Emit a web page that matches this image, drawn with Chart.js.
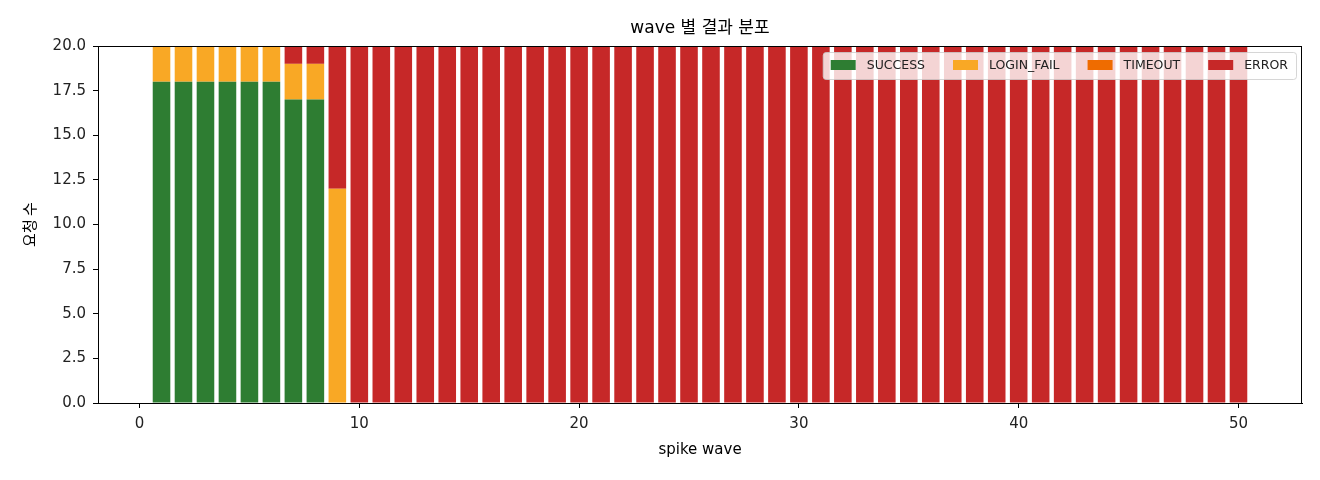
<!DOCTYPE html>
<html>
<head>
<meta charset="utf-8">
<script src="https://cdn.jsdelivr.net/npm/chart.js@4"></script>
<style>
  body { margin: 0; background: #fff; }
  #zone { width: 1320px; height: 480px; }
</style>
</head>
<body>
<div id="zone"><canvas id="Graphique"></canvas></div>
<script>
// données du graphe
var waves = [1, 2, 3, 4, 5, 6, 7, 8, 9, 10,
    11, 12, 13, 14, 15, 16, 17, 18, 19, 20,
    21, 22, 23, 24, 25, 26, 27, 28, 29, 30,
    31, 32, 33, 34, 35, 36, 37, 38, 39, 40,
    41, 42, 43, 44, 45, 46, 47, 48, 49, 50];
var success = [18, 18, 18, 18, 18, 18, 17, 17, 0, 0,
    0, 0, 0, 0, 0, 0, 0, 0, 0, 0,
    0, 0, 0, 0, 0, 0, 0, 0, 0, 0,
    0, 0, 0, 0, 0, 0, 0, 0, 0, 0,
    0, 0, 0, 0, 0, 0, 0, 0, 0, 0];
var loginFail = [2, 2, 2, 2, 2, 2, 2, 2, 12, 0,
    0, 0, 0, 0, 0, 0, 0, 0, 0, 0,
    0, 0, 0, 0, 0, 0, 0, 0, 0, 0,
    0, 0, 0, 0, 0, 0, 0, 0, 0, 0,
    0, 0, 0, 0, 0, 0, 0, 0, 0, 0];
var timeout = [0, 0, 0, 0, 0, 0, 0, 0, 0, 0,
    0, 0, 0, 0, 0, 0, 0, 0, 0, 0,
    0, 0, 0, 0, 0, 0, 0, 0, 0, 0,
    0, 0, 0, 0, 0, 0, 0, 0, 0, 0,
    0, 0, 0, 0, 0, 0, 0, 0, 0, 0];
var errors = [0, 0, 0, 0, 0, 0, 1, 1, 8, 20,
    20, 20, 20, 20, 20, 20, 20, 20, 20, 20,
    20, 20, 20, 20, 20, 20, 20, 20, 20, 20,
    20, 20, 20, 20, 20, 20, 20, 20, 20, 20,
    20, 20, 20, 20, 20, 20, 20, 20, 20, 20];
var xTicks = [0, 10, 20, 30, 40, 50];
var yTicks = [0, 2.5, 5, 7.5, 10, 12.5, 15, 17.5, 20];
var titre = 'wave 별 결과 분포';

// DejaVu pour le latin, Noto CJK pour le coréen
var police = '"DejaVu Sans", "Noto Sans CJK KR", sans-serif';
var policeKr = '"Noto Sans CJK KR", sans-serif';

function points(vals) {
    return waves.map(function (w, i) { return { x: w, y: vals[i] }; });
}

function serie(label, vals, color) {
    return {
        label: label,
        data: points(vals),
        backgroundColor: color,
        borderWidth: 0,
        barPercentage: 0.8,
        categoryPercentage: 1.0
    };
}

// légende dans la zone du graphe (en haut à droite), titre et cadre
var legendeInterne = {
    id: 'legendeInterne',
    afterDatasetsDraw: function (chart) {
        var ctx = chart.ctx;
        var area = chart.chartArea;
        ctx.save();
        ctx.font = '12.5px ' + police;
        var items = chart.data.datasets;
        var largeur = 16;
        items.forEach(function (d, i) {
            largeur += 25 + 11 + ctx.measureText(d.label).width;
            if (i < items.length - 1) largeur += 28;
        });
        var x0 = area.right - 6 - largeur;
        var y0 = area.top + 6;
        var h = 27;
        ctx.globalAlpha = 0.8;
        ctx.fillStyle = '#fff';
        ctx.strokeStyle = '#ccc';
        ctx.lineWidth = 1;
        ctx.beginPath();
        ctx.roundRect(x0 + 0.5, y0 + 0.5, largeur, h, 3);
        ctx.fill();
        ctx.stroke();
        ctx.globalAlpha = 1;
        var x = x0 + 8;
        items.forEach(function (d) {
            ctx.fillStyle = d.backgroundColor;
            ctx.fillRect(x, y0 + 8, 25, 10);
            ctx.fillStyle = '#222';
            ctx.textBaseline = 'middle';
            ctx.fillText(d.label, x + 36, y0 + 13.5);
            x += 25 + 11 + ctx.measureText(d.label).width + 28;
        });
        ctx.restore();
    },
    afterDraw: function (chart) {
        var a = chart.chartArea;
        var ctx = chart.ctx;
        ctx.save();
        // cadre complet autour du graphe
        ctx.strokeStyle = '#000';
        ctx.lineWidth = 1;
        ctx.strokeRect(a.left + 0.5, a.top + 0.5, a.right - a.left - 1, a.bottom - a.top);
        // titre centré sur la zone du graphe
        ctx.fillStyle = '#000';
        ctx.font = '17px ' + police;
        ctx.textAlign = 'center';
        ctx.textBaseline = 'middle';
        ctx.fillText(titre, (a.left + a.right) / 2, 29);
        ctx.restore();
    }
};

var chartObj = new Chart(document.getElementById('Graphique').getContext('2d'), {
    type: 'bar',
    data: {
        datasets: [
            serie('SUCCESS', success, '#2e7d32'),
            serie('LOGIN_FAIL', loginFail, '#f9a825'),
            serie('TIMEOUT', timeout, '#ef6c00'),
            serie('ERROR', errors, '#c62828')
        ]
    },
    options: {
        responsive: true,
        maintainAspectRatio: false,
        animation: false,
        layout: { padding: { top: 46, left: 0, right: 18, bottom: 0 } },
        plugins: {
            legend: { display: false },
            tooltip: { enabled: false },
            title: { display: false }
        },
        scales: {
            x: {
                type: 'linear',
                stacked: true,
                offset: false,
                min: -1.89,
                max: 52.89,
                afterBuildTicks: function (s) { s.ticks = xTicks.map(function (v) { return { value: v }; }); },
                afterFit: function (s) { s.height = 77; },
                grid: { display: true, offset: false, drawOnChartArea: false, tickLength: 5, tickColor: '#000' },
                border: { display: true, color: '#000' },
                ticks: { color: '#222', font: { family: police, size: 15 }, padding: 7, maxRotation: 0 },
                title: {
                    display: true,
                    text: 'spike wave',
                    color: '#000',
                    font: { family: police, size: 15 },
                    padding: { top: 4, bottom: 21 }
                }
            },
            y: {
                stacked: true,
                min: 0,
                max: 20,
                afterBuildTicks: function (s) { s.ticks = yTicks.map(function (v) { return { value: v }; }); },
                afterFit: function (s) { s.width = 98; },
                grid: { display: true, drawOnChartArea: false, tickLength: 5, tickColor: '#000' },
                border: { display: true, color: '#000' },
                ticks: {
                    color: '#222',
                    font: { family: police, size: 15 },
                    padding: 7,
                    callback: function (v) { return v.toFixed(1); }
                },
                title: {
                    display: true,
                    text: '요청 수',
                    color: '#000',
                    font: { family: policeKr, size: 15 },
                    padding: { top: 20, bottom: 4 }
                }
            }
        }
    },
    plugins: [legendeInterne]
});
</script>
</body>
</html>
